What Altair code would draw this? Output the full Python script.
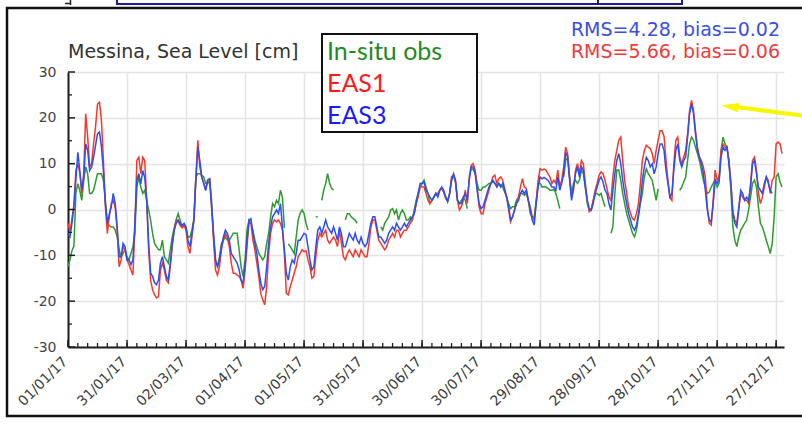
import altair as alt
import pandas as pd

# Daily sea-level series for Messina, 2017 (cm); None = no observation
EAS3 = [
    -5.2, -6.0, -3.0, 0.6, 6.4, 12.5, 8.5, 4.2, 7.0, 14.3,
    12.9, 8.5, 9.3, 11.4, 14.0, 16.5, 16.9, 13.6, 8.5, 1.3,
    -3.0, -1.0, 0.6, 3.5, 1.3, -3.8, -10.3, -10.3, -7.4, -8.1,
    -11.0, -11.0, -12.0, -11.0, -3.0, 6.4, 7.8, 5.6, 8.5, 7.0,
    2.0, -7.4, -13.9, -14.6, -16.0, -16.4, -15.4, -11.7, -10.3, -12.5,
    -14.6, -15.4, -11.7, -7.4, -4.5, -3.0, -2.3, -3.0, -3.5, -3.0,
    -3.8, -6.7, -8.1, -5.2, -2.3, 6.4, 13.6, 10.7, 7.1, 5.7,
    4.2, 6.4, 6.7, 0.6, -5.2, -11.0, -12.5, -11.0, -8.1, -6.0,
    -4.5, -5.2, -6.7, -9.6, -10.3, -11.0, -11.7, -13.2, -15.4, -16.0,
    -12.5, -6.7, -2.3, -2.0, -5.2, -7.4, -9.6, -13.2, -16.0, -17.5,
    -16.8, -12.5, -7.4, -3.8, -1.6, -0.9, -0.1, -0.9, 1.3, -3.8,
    -8.8, -13.9, -15.4, -12.5, -11.0, -11.7, -9.6, -6.7, -6.7, -6.0,
    -5.2, -5.5, -8.1, -11.0, -13.2, -12.5, -8.1, -4.5, -3.8, -5.2,
    -3.8, -2.3, -3.8, -4.5, -5.2, -3.8, -5.2, -6.7, -3.8, -5.2,
    -8.1, -8.1, -6.7, -5.2, -6.0, -6.7, -5.2, -6.7, -7.4, -6.0,
    -7.4, -8.1, -7.4, -5.2, -3.0, -1.6, -1.6, -3.8, -6.0, -6.0,
    -6.7, -7.4, -6.7, -5.2, -4.5, -3.8, -4.5, -3.0, -3.8, -4.5,
    -3.8, -3.0, -3.8, -3.0, -2.3, -1.6, -0.9, 1.3, 3.5, 5.7,
    5.7, 6.0, 4.2, 3.5, 2.7, 2.0, 2.7, 3.5, 2.7, 4.2,
    4.9, 4.2, 2.7, 1.7, 3.5, 6.4, 7.8, 6.4, 2.0, 1.3,
    1.3, 2.7, 3.5, 2.0, 6.4, 9.3, 9.3, 7.8, 4.2, 1.3,
    0.2, 0.6, 2.0, 3.5, 4.9, 5.7, 6.4, 5.7, 4.9, 5.7,
    4.9, 5.7, 4.2, 2.7, 0.6, -2.3, -1.6, -0.1, 1.3, 2.0,
    3.5, 4.2, 3.5, 4.2, 2.0, -0.1, -2.3, -3.4, 1.3, 4.9,
    7.1, 6.7, 7.0, 6.7, 6.4, 5.7, 4.9, 4.9, 4.2, 7.1,
    4.2, 5.7, 7.8, 12.5, 11.4, 6.4, 2.0, 4.9, 7.8, 9.3,
    7.1, 9.3, 8.6, 4.9, 2.0, 0.2, -0.1, 1.3, 3.5, 4.9,
    6.4, 7.1, 6.0, 4.2, 3.5, 1.3, -0.1, 4.2, 7.8, 10.7,
    12.2, 10.0, 6.4, 3.5, 1.3, -0.9, -2.3, -3.8, -4.5, -3.4,
    -0.9, 2.0, 6.4, 9.3, 11.4, 10.7, 9.3, 10.0, 7.8, 9.3,
    12.2, 14.3, 14.3, 12.9, 8.6, 5.7, 2.7, 3.5, 8.6, 12.9,
    14.3, 10.7, 9.3, 10.7, 11.4, 15.8, 20.9, 23.0, 20.9, 16.5,
    12.9, 11.4, 10.0, 7.8, 4.2, -0.1, -2.3, -2.7, 1.3, 6.4,
    5.7, 6.4, 11.4, 13.6, 12.9, 13.6, 10.0, 5.7, -0.9, -3.0,
    -3.8, -0.1, 4.2, 3.5, 2.0, 2.7, 2.0, 4.9, 10.0, 10.7,
    7.8, 4.9, 4.2, 3.5, 5.7, 7.1, 5.7, 4.2, 3.5, None,
    None, None, None, None,
]

EAS1 = [
    -3.0, -5.0, -2.0, 1.0, 8.5, 10.0, 8.0, 3.5, 8.0, 20.9,
    15.8, 9.3, 10.0, 14.3, 18.0, 23.0, 23.4, 19.4, 10.7, 0.6,
    -5.2, -1.5, 1.3, 2.0, 0.5, -4.5, -12.5, -11.0, -8.1, -8.8,
    -11.0, -12.0, -13.2, -14.3, -3.8, 10.7, 11.4, 7.8, 11.4, 10.7,
    2.0, -8.8, -15.4, -17.5, -18.6, -19.3, -19.0, -13.2, -11.7, -13.2,
    -15.4, -16.0, -12.5, -8.0, -4.5, -2.3, -2.5, -3.5, -4.0, -3.5,
    -4.5, -8.1, -9.6, -6.0, -2.5, 7.0, 15.1, 9.3, 7.0, 5.7,
    4.2, 6.4, 6.7, 0.6, -6.7, -13.2, -14.3, -12.5, -8.8, -6.7,
    -5.2, -6.0, -8.1, -11.7, -13.9, -13.9, -14.3, -14.6, -15.4, -17.2,
    -13.2, -8.1, -3.0, -3.0, -6.7, -8.8, -11.7, -14.6, -18.3, -19.7,
    -20.8, -16.8, -9.6, -5.2, -3.0, -2.3, -2.7, -2.3, -3.0, -4.5,
    -9.6, -18.3, -18.6, -16.8, -15.4, -13.9, -12.5, -10.3, -9.6, -8.8,
    -9.2, -9.0, -11.0, -12.5, -15.0, -14.6, -10.3, -6.7, -5.2, -6.0,
    -5.2, -4.5, -6.7, -7.4, -6.7, -6.0, -6.7, -8.1, -4.5, -7.4,
    -10.3, -11.0, -9.6, -8.8, -9.6, -10.3, -8.8, -9.6, -10.3, -8.8,
    -9.6, -10.3, -10.3, -7.4, -3.8, -2.3, -2.3, -4.5, -6.7, -7.4,
    -8.1, -8.8, -8.1, -6.7, -6.0, -5.2, -6.0, -4.5, -4.5, -6.0,
    -5.2, -4.5, -4.5, -3.8, -3.0, -2.3, -0.9, 1.3, 2.7, 4.9,
    5.0, 4.9, 3.5, 2.0, 1.3, 2.0, 2.7, 3.5, 3.5, 4.2,
    4.6, 3.8, 2.4, 2.0, 3.5, 7.1, 7.5, 6.0, 2.0, -0.1,
    0.6, 2.0, 4.2, 1.3, 7.1, 9.6, 10.0, 8.6, 4.9, 0.6,
    -0.9, -0.9, 1.3, 2.7, 4.2, 5.7, 7.1, 7.5, 5.7, 6.7,
    7.1, 6.4, 4.6, 2.7, -0.1, -2.7, -1.6, -0.1, 1.3, 2.7,
    4.9, 6.7, 4.9, 4.6, 2.0, -0.9, -1.6, -2.3, 1.3, 6.4,
    8.9, 8.6, 8.8, 8.6, 7.8, 7.1, 5.7, 6.4, 5.7, 8.6,
    5.0, 6.4, 9.3, 13.6, 12.2, 7.1, 2.7, 4.2, 8.6, 10.0,
    7.8, 10.7, 10.0, 5.7, 2.0, -0.5, -0.1, 2.0, 4.2, 5.7,
    7.5, 8.2, 7.8, 6.4, 4.6, 2.7, 2.0, 7.1, 10.7, 12.9,
    15.1, 15.8, 10.7, 6.4, 3.5, 0.6, -0.9, -2.0, -2.3, -0.9,
    1.3, 5.7, 10.7, 12.9, 14.0, 13.6, 13.3, 12.2, 10.0, 12.9,
    15.1, 17.2, 17.2, 16.0, 10.7, 6.4, 2.7, 2.0, 10.0, 15.1,
    15.8, 11.4, 10.0, 11.4, 12.9, 16.5, 21.6, 23.8, 21.6, 17.2,
    13.6, 11.4, 10.7, 9.3, 7.1, 0.6, -3.0, -3.4, 2.0, 8.6,
    6.4, 7.1, 12.9, 14.3, 13.6, 13.6, 10.7, 5.7, -0.5, -2.3,
    -3.0, 0.5, 3.5, 2.7, 2.0, 2.0, 1.3, 5.7, 10.7, 11.4,
    8.6, 3.5, 1.3, 2.7, 4.9, 7.1, 6.4, 3.5, 6.4, 7.1,
    14.3, 14.7, 14.3, 12.2,
]

OBS = [
    -12.5, -11.0, -9.0, -8.0, 3.5, 5.6, 4.2, 2.0, 6.4, 9.3,
    7.8, 3.5, 3.5, 4.2, 6.0, 7.8, 7.8, 7.8, 6.4, 2.0,
    -3.0, -3.5, -3.8, -3.8, -4.5, -6.0, -8.8, -10.3, -9.6, -8.8,
    -10.3, -11.0, -9.6, -8.1, -5.2, 4.9, 7.1, 4.9, 3.5, 4.2,
    2.0, -0.1, -2.3, -5.2, -7.4, -8.1, -8.8, -8.8, -6.7, -10.3,
    -11.0, -11.7, -8.8, -6.0, -4.0, -2.3, -0.9, -2.3, -3.8, -3.5,
    -4.0, -6.0, -6.0, -4.5, -2.0, 7.1, 7.8, 7.8, 7.5, 7.1,
    5.7, 5.6, 6.4, 2.0, -6.0, -11.0, -12.5, -10.3, -7.4, -6.7,
    -6.0, -6.7, -6.7, -6.0, -5.2, -5.2, -5.2, -8.8, -12.5, -14.6,
    -11.0, -4.5, -2.3, -3.0, -4.5, -6.7, -8.1, -9.6, -10.3, -11.0,
    -10.3, -7.4, -5.2, -1.6, 1.3, 0.6, 2.0, 1.3, 4.2, 2.7,
    -4.0, None, -7.5, -8.1, -8.8, -9.6, -6.0, -2.3, -0.9, -0.1,
    -0.9, -3.0, -4.5, None, None, None, -1.6, -1.6, None, 2.0,
    4.2, 5.7, 7.8, 5.7, 4.6, 4.2, None, None, None, None,
    None, -2.3, -0.9, -0.9, -1.6, -2.0, -2.3, -3.0, None, None,
    None, None, None, None, None, None, None, None, None, -3.8,
    -4.5, -3.0, -2.3, -1.6, -0.1, 0.2, -0.9, -0.1, -2.3, -0.9,
    -0.1, -0.9, -2.3, -2.3, -1.6, -2.3, -0.1, 2.0, 3.5, 4.9,
    5.7, 6.4, 4.9, 3.5, 1.3, 2.0, 2.7, 3.5, 3.1, 4.2,
    4.6, 3.8, 2.7, 1.7, 3.5, 6.4, 7.5, 6.0, 2.0, 1.3,
    2.0, 2.7, 2.0, 0.2, None, 8.6, 8.9, 7.8, 5.7, 4.2,
    4.2, 4.9, 4.9, 5.3, 5.7, 5.7, 6.0, 5.7, 5.3, 5.7,
    5.3, 4.9, 3.8, 2.7, 1.3, 0.2, 0.6, 0.6, 2.0, 2.7,
    3.5, 3.5, 3.1, 3.5, 2.0, 0.6, -1.6, -1.6, 2.0, 5.7,
    5.7, 4.9, 5.0, 4.9, 4.6, 4.2, 4.2, 4.4, 3.5, 2.0,
    0.2, None, 7.1, 10.7, 11.4, 7.1, 3.5, 5.7, 6.4, 5.7,
    6.4, 8.6, 7.8, 4.9, 1.3, -0.1, -0.1, 2.0, 3.5, 3.5,
    3.1, 3.5, 2.0, 0.6, None, None, -5.2, -3.8, 3.5, 8.6,
    8.6, 6.4, 3.5, 1.3, -0.9, -2.3, -3.8, -5.2, -6.0, -4.5,
    -1.6, 1.3, 3.5, 7.1, 8.9, 7.8, 7.1, 6.4, 4.2, 2.0,
    4.5, None, None, None, None, None, None, None, None, None,
    None, 4.2, 4.9, 6.0, 7.1, 10.7, 14.3, 15.8, 15.1, 13.6,
    12.2, 10.7, 8.6, 6.4, 4.9, 3.5, 3.8, 4.9, 5.7, 6.4,
    4.9, 5.7, 12.9, 15.8, 14.3, 13.6, 10.7, 4.2, -3.8, -6.7,
    -8.1, -6.0, -4.5, -3.8, -3.0, -2.3, -0.1, 2.7, 5.7, 6.4,
    4.9, 0.6, -3.0, -3.8, -5.2, -6.7, -8.1, -9.6, -7.4, -1.6,
    7.1, 7.8, 6.0, 4.9,
]

SERIES = ["In-situ obs", "EAS1", "EAS3"]
COLORS = ["#2f9a2f", "#f03a2c", "#2d4ef0"]
LEGEND_COLORS = ["#1f8a1f", "#ff1a1a", "#1a1aff"]
STATS = ["RMS=4.28, bias=0.02", "RMS=5.66, bias=0.06"]
STATS_COLORS = ["#3a4fe0", "#ee3b3b"]
TITLE = "Messina, Sea Level [cm]"

TICK_DATES = [(2017, 1, 1), (2017, 1, 31), (2017, 3, 2), (2017, 4, 1),
              (2017, 5, 1), (2017, 5, 31), (2017, 6, 30), (2017, 7, 30),
              (2017, 8, 29), (2017, 9, 28), (2017, 10, 28), (2017, 11, 27),
              (2017, 12, 27)]
Y_TICKS = [-30, -20, -10, 0, 10, 20, 30]
Y_MINOR = [-25, -15, -5, 5, 15, 25]

W, H = 716, 275
FONT = "DejaVu Sans"

dates = pd.date_range("2017-01-01", periods=len(EAS1), freq="D")


def series_frame(values):
    """Long table with a segment id so gaps break the line."""
    rows, seg, prev = [], 0, False
    for d, v in zip(dates, values):
        if v is None:
            if prev:
                seg += 1
            prev = False
            continue
        rows.append({"date": d.strftime("%Y-%m-%dT00:00:00"), "value": v, "seg": seg})
        prev = True
    return pd.DataFrame(rows)


def dt(t):
    return alt.DateTime(year=t[0], month=t[1], date=t[2])


x_scale = alt.Scale(domain=[dt((2017, 1, 1)), dt((2017, 12, 31))], nice=False)
y_scale = alt.Scale(domain=[-30, 30], nice=False, zero=False)

x_axis = alt.Axis(
    values=[dt(t) for t in TICK_DATES], format="%d/%m/%y", title=None,
    labelAngle=315, labelAlign="right", labelBaseline="middle", labelPadding=12,
    labelOffset=-3, labelFont=FONT, labelFontSize=14, labelColor="#3a3a3a",
    labelFlush=False, labelOverlap=False, tickSize=0, grid=True,
    gridColor="#e4e4e4", gridWidth=1.5, domainColor="#1e1e1e", domainWidth=2,
)
y_axis = alt.Axis(
    values=Y_TICKS, title=None, labelFont=FONT, labelFontSize=14, labelColor="#444",
    labelExpr="datum.value < 0 ? '-' + abs(datum.value) : '' + datum.value",
    labelPadding=12, tickSize=0, grid=True, gridColor="#e4e4e4", gridWidth=1.5,
    domainColor="#1e1e1e", domainWidth=2,
)

one = pd.DataFrame({"k": [0]})

lines = []
for name, vals, col in zip(SERIES, [OBS, EAS1, EAS3], COLORS):
    lines.append(
        alt.Chart(series_frame(vals)).mark_line(color=col, strokeWidth=1.5).encode(
            x=alt.X("date:T", scale=x_scale, axis=x_axis),
            y=alt.Y("value:Q", scale=y_scale, axis=y_axis),
            detail="seg:N",
        )
    )

# inward tick marks on both axes
major_x = pd.DataFrame({"date": [pd.Timestamp(*t).strftime("%Y-%m-%dT00:00:00") for t in TICK_DATES]})
minor_x = pd.DataFrame({"date": [d.strftime("%Y-%m-%dT00:00:00")
                                 for d in pd.date_range("2017-01-01", "2017-12-27", freq="5D")]})
xt_major = alt.Chart(major_x).mark_rule(color="#1e1e1e", strokeWidth=1.5).encode(
    x=alt.X("date:T", scale=x_scale), y=alt.value(H), y2=alt.value(H - 7))
xt_minor = alt.Chart(minor_x).mark_rule(color="#1e1e1e", strokeWidth=1.3).encode(
    x=alt.X("date:T", scale=x_scale), y=alt.value(H), y2=alt.value(H - 4))
yt_major = alt.Chart(pd.DataFrame({"v": Y_TICKS})).mark_rule(color="#1e1e1e", strokeWidth=1.5).encode(
    y=alt.Y("v:Q", scale=y_scale), x=alt.value(0), x2=alt.value(7))
yt_minor = alt.Chart(pd.DataFrame({"v": Y_MINOR})).mark_rule(color="#1e1e1e", strokeWidth=1.3).encode(
    y=alt.Y("v:Q", scale=y_scale), x=alt.value(0), x2=alt.value(4))

# outer frame and the strip of the box above it
frame = alt.Chart(one).mark_rect(fill=None, stroke="#111", strokeWidth=2.5).encode(
    x=alt.value(-61), x2=alt.value(745), y=alt.value(-64), y2=alt.value(344))
top_box = alt.Chart(one).mark_rect(fill=None, stroke="#1c1c9a", strokeWidth=2).encode(
    x=alt.value(49), x2=alt.value(614), y=alt.value(-95), y2=alt.value(-68))
top_marks = [
    alt.Chart(one).mark_rule(color="#222", strokeWidth=1.5).encode(
        x=alt.value(2.5), x2=alt.value(2.5), y=alt.value(-75), y2=alt.value(-67)),
    alt.Chart(one).mark_rule(color="#222", strokeWidth=1.5).encode(
        x=alt.value(-3), x2=alt.value(2.5), y=alt.value(-68.5), y2=alt.value(-68.5)),
    alt.Chart(one).mark_rule(color="#222", strokeWidth=2).encode(
        x=alt.value(530), x2=alt.value(530), y=alt.value(-75), y2=alt.value(-68)),
]

title = alt.Chart(one).mark_text(text=TITLE, font=FONT, fontSize=19, color="#333",
                                 align="left", baseline="alphabetic").encode(
    x=alt.value(0), y=alt.value(-14))

stats = [
    alt.Chart(one).mark_text(text=t, font=FONT, fontSize=19, color=c,
                             align="right", baseline="alphabetic").encode(
        x=alt.value(712), y=alt.value(yy))
    for t, c, yy in zip(STATS, STATS_COLORS, [-36, -14])
]

legend_box = alt.Chart(one).mark_rect(fill="white", stroke="#111", strokeWidth=2).encode(
    x=alt.value(254), x2=alt.value(409), y=alt.value(-38), y2=alt.value(60))
legend_text = [
    alt.Chart(one).mark_text(text=t, font="Lato", fontSize=25, color=c,
                             align="left", baseline="alphabetic").encode(
        x=alt.value(259), y=alt.value(yy))
    for t, c, yy in zip(SERIES, LEGEND_COLORS, [-12, 20, 52])
]

# yellow pointer towards the November peak
arrow_shaft = alt.Chart(one).mark_rule(color="#f7f700", strokeWidth=4).encode(
    x=alt.value(668), y=alt.value(35), x2=alt.value(745), y2=alt.value(45))
arrow_head = alt.Chart(one).mark_point(
    shape="M -1 0 L 1 -0.55 L 1 0.55 Z", filled=True, color="#f7f700", opacity=1,
    size=300, angle=8).encode(x=alt.value(662), y=alt.value(34.5))

chart = alt.layer(
    *lines, xt_major, xt_minor, yt_major, yt_minor, frame, top_box, *top_marks,
    title, *stats, legend_box, *legend_text, arrow_shaft, arrow_head,
).properties(
    width=W, height=H,
    autosize=alt.AutoSizeParams(type="none"),
    padding={"left": 68, "top": 72, "right": 18, "bottom": 77},
    background="white",
).configure_view(stroke=None)

chart.save("out.html", embed_options={"renderer": "svg", "actions": False})
